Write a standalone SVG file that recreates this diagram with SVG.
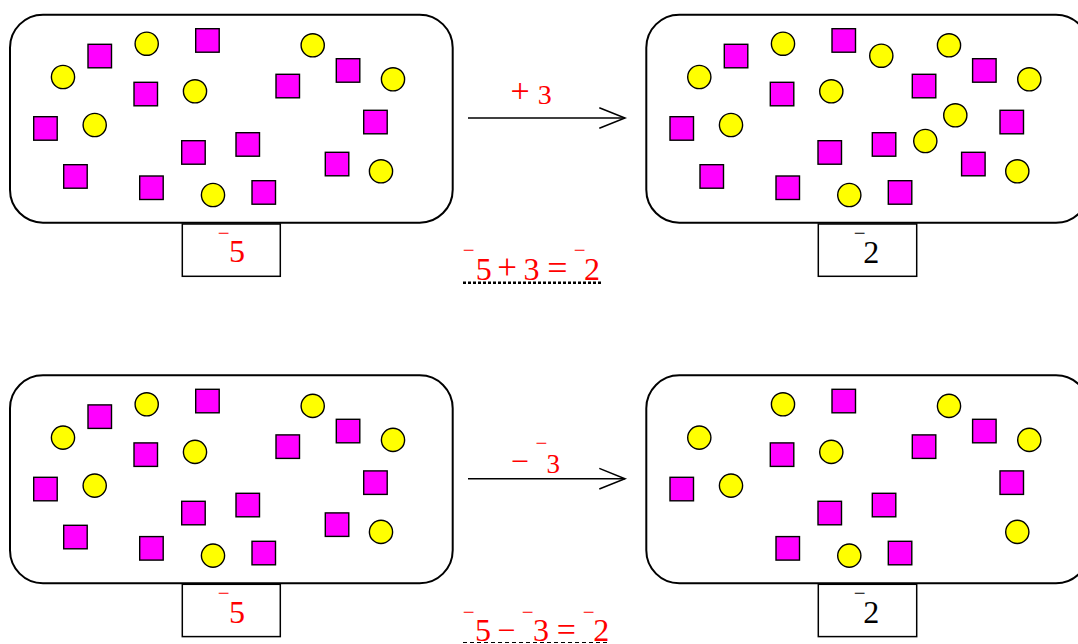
<svg xmlns="http://www.w3.org/2000/svg" xmlns:xlink="http://www.w3.org/1999/xlink" width="1078" height="644" viewBox="0 0 1078 644">
<style>
.box{fill:#fff;stroke:#000;stroke-width:2}
.lbl{fill:#fff;stroke:#000;stroke-width:1.5}
.sq{fill:#ff00ff;stroke:#000;stroke-width:1.4}
.ci{fill:#ffff00;stroke:#000;stroke-width:1.4}
.red{fill:#ff0000}
.blk{fill:#000}
.conn{stroke:#000;stroke-width:1.5;fill:none}
</style>
<defs>
<marker id="open" markerUnits="userSpaceOnUse" markerWidth="32" markerHeight="26" refX="28" refY="13" orient="auto" viewBox="0 0 32 26">
<path d="M2.3,2.7 L28,13 L2.3,23.3" fill="none" stroke="#000" stroke-width="1.5"/>
</marker>
<g id="sqCommon">
<rect class="sq" x="195.7" y="28.7" width="23.5" height="23.5"/>
<rect class="sq" x="134" y="82.3" width="23.5" height="23.5"/>
<rect class="sq" x="276" y="74.3" width="23.5" height="23.5"/>
<rect class="sq" x="336.3" y="58.7" width="23.5" height="23.5"/>
<rect class="sq" x="33.7" y="116.7" width="23.5" height="23.5"/>
<rect class="sq" x="363.7" y="110.3" width="23.5" height="23.5"/>
<rect class="sq" x="181.7" y="140.7" width="23.5" height="23.5"/>
<rect class="sq" x="236" y="132.7" width="23.5" height="23.5"/>
<rect class="sq" x="139.7" y="176" width="23.5" height="23.5"/>
<rect class="sq" x="252" y="180.7" width="23.5" height="23.5"/>
</g>
<g id="sqExtra">
<rect class="sq" x="88" y="44.3" width="23.5" height="23.5"/>
<rect class="sq" x="63.7" y="164.7" width="23.5" height="23.5"/>
<rect class="sq" x="325.3" y="152.3" width="23.5" height="23.5"/>
</g>
<g id="ciCommon">
<circle class="ci" cx="146.7" cy="43.7" r="11.6"/>
<circle class="ci" cx="312.7" cy="45.3" r="11.6"/>
<circle class="ci" cx="63" cy="77" r="11.6"/>
<circle class="ci" cx="195" cy="91.3" r="11.6"/>
<circle class="ci" cx="393" cy="79.3" r="11.6"/>
<circle class="ci" cx="94.7" cy="125" r="11.6"/>
<circle class="ci" cx="381" cy="171.3" r="11.6"/>
<circle class="ci" cx="213" cy="195" r="11.6"/>
</g>
<g id="ciExtra">
<circle class="ci" cx="245" cy="55.7" r="11.6"/>
<circle class="ci" cx="319" cy="115.3" r="11.6"/>
<circle class="ci" cx="289" cy="141" r="11.6"/>
</g>
</defs>
<rect width="1078" height="644" fill="#fff"/>

<g id="box-top-left">
<rect class="box" x="10" y="14.7" width="442.7" height="208" rx="33"/>
<use xlink:href="#sqCommon"/><use xlink:href="#sqExtra"/><use xlink:href="#ciCommon"/>
</g>
<g id="label-top-left">
<rect class="lbl" x="182.3" y="224" width="98" height="52.3"/>
<text class="red" font-family="'Liberation Serif', 'Times New Roman', serif" font-size="32"><tspan font-size="21" x="217.7" y="239.6">−</tspan><tspan x="229" y="262.3">5</tspan></text>
</g>

<g id="box-top-right">
<g transform="translate(636.3,0)">
<rect class="box" x="10" y="14.7" width="442.7" height="208" rx="33"/>
<use xlink:href="#sqCommon"/><use xlink:href="#sqExtra"/><use xlink:href="#ciCommon"/><use xlink:href="#ciExtra"/>
</g>
</g>
<g id="label-top-right">
<rect class="lbl" x="818.3" y="224" width="98.4" height="52.3"/>
<text class="blk" font-family="'Liberation Serif', 'Times New Roman', serif" font-size="32"><tspan font-size="21" x="853.7" y="239.6">−</tspan><tspan x="863.3" y="262.5">2</tspan></text>
</g>

<g id="box-bottom-left">
<g transform="translate(0,360.6)">
<rect class="box" x="10" y="14.7" width="442.7" height="208" rx="33"/>
<use xlink:href="#sqCommon"/><use xlink:href="#sqExtra"/><use xlink:href="#ciCommon"/>
</g>
</g>
<g id="label-bottom-left">
<rect class="lbl" x="182.3" y="584.3" width="98" height="52.3"/>
<text class="red" font-family="'Liberation Serif', 'Times New Roman', serif" font-size="32"><tspan font-size="21" x="217.7" y="600.2">−</tspan><tspan x="229" y="622.9">5</tspan></text>
</g>

<g id="box-bottom-right">
<g transform="translate(636.3,360.6)">
<rect class="box" x="10" y="14.7" width="442.7" height="208" rx="33"/>
<use xlink:href="#sqCommon"/><use xlink:href="#ciCommon"/>
</g>
</g>
<g id="label-bottom-right">
<rect class="lbl" x="818.3" y="584.3" width="98.4" height="52.3"/>
<text class="blk" font-family="'Liberation Serif', 'Times New Roman', serif" font-size="32"><tspan font-size="21" x="853.7" y="600.2">−</tspan><tspan x="863.3" y="622.9">2</tspan></text>
</g>

<g id="connectors">
<line class="conn" x1="468" y1="118" x2="625" y2="118" marker-end="url(#open)"/>
<line class="conn" x1="468" y1="478.7" x2="625" y2="478.7" marker-end="url(#open)"/>
</g>

<g id="arrow-label-top">
<text class="red" font-family="'Liberation Serif', 'Times New Roman', serif" font-size="28"><tspan x="510.6" y="101.9" font-size="34">+</tspan><tspan x="537.8" y="104">3</tspan></text>
</g>
<g id="arrow-label-bottom">
<text class="red" font-family="'Liberation Serif', 'Times New Roman', serif" font-size="27"><tspan x="510.7" y="472.4" font-size="32">−</tspan><tspan font-size="21" x="535.4" y="449.6">−</tspan><tspan x="546.5" y="473">3</tspan></text>
</g>

<g id="equation-top">
<text class="red" font-family="'Liberation Serif', 'Times New Roman', serif" font-size="32"><tspan font-size="21" x="462.7" y="257">−</tspan><tspan x="475.7" y="279.5">5</tspan><tspan x="497.3" y="278.5" font-size="35">+</tspan><tspan x="523.6" y="279.5">3</tspan><tspan x="547.2" y="279.5" font-size="36">=</tspan><tspan font-size="21" x="573.7" y="257">−</tspan><tspan x="584" y="279.5">2</tspan></text>
<line x1="463" y1="282.8" x2="602" y2="282.8" stroke="#000" stroke-width="2.4" stroke-dasharray="3 2"/>
</g>
<g id="equation-bottom">
<text class="red" font-family="'Liberation Serif', 'Times New Roman', serif" font-size="32"><tspan font-size="21" x="462.7" y="618.6">−</tspan><tspan x="475" y="641.3">5</tspan><tspan x="497.3" y="641.3">−</tspan><tspan font-size="21" x="521.7" y="618.6">−</tspan><tspan x="532.9" y="641.3">3</tspan><tspan x="556.7" y="641.3" font-size="34">=</tspan><tspan font-size="21" x="582.7" y="618.6">−</tspan><tspan x="593.3" y="641.3">2</tspan></text>
<line x1="463" y1="642.5" x2="608" y2="642.5" stroke="#000" stroke-width="1" stroke-dasharray="4 3"/>
</g>
</svg>
